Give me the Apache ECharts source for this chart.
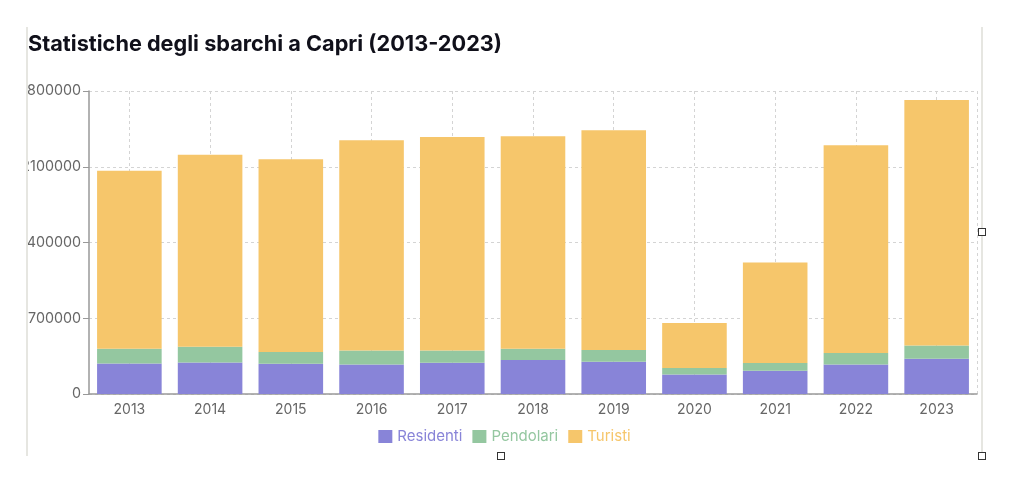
<!DOCTYPE html>
<html>
<head>
<meta charset="utf-8">
<script src="https://cdn.jsdelivr.net/npm/echarts@6/dist/echarts.min.js"></script>
<style>
  html, body { margin: 0; padding: 0; background: #fff; }
  body { width: 1024px; height: 497px; position: relative; overflow: hidden; }
  .vline { position: absolute; top: 27px; height: 429px; width: 2px; background: #e6e6e1; }
  .handle { position: absolute; width: 6px; height: 6px; border: 1px solid #333; background: #fff; box-sizing: content-box; }
  #chart { position: absolute; left: 28px; top: 0; width: 953px; height: 480px; overflow: hidden; }
</style>
</head>
<body>
<div class="vline" style="left:26px"></div>
<div class="vline" style="left:981px"></div>
<div id="chart"></div>
<div class="handle" style="left:497px; top:452px"></div>
<div class="handle" style="left:978px; top:228px"></div>
<div class="handle" style="left:978px; top:452px"></div>
<script>
const titleText = 'Statistiche degli sbarchi a Capri (2013-2023)';
const years = ['2013','2014','2015','2016','2017','2018','2019','2020','2021','2022','2023'];
const residenti = [282000, 292000, 280000, 273000, 289000, 314000, 298000, 181000, 215000, 273000, 326000];
const pendolari = [136000, 145000, 108000, 130000, 114000, 104000, 108000, 59000, 71000, 106000, 123000];
const turisti = [1646000, 1775000, 1781000, 1942000, 1972000, 1964000, 2031000, 415000, 929000, 1920000, 2268000];
const yMax = 2800000;
const yInterval = 700000;

const colors = { Residenti: '#8884d8', Pendolari: '#94c7a0', Turisti: '#f6c66b' };
const font = 'Inter, "Noto Sans", sans-serif';

// helper axis (half-band positions) used only to draw vertical dashed grid lines at category centres
const halfSteps = Array.from({ length: years.length * 2 + 1 }, (_, i) => String(i));

const chart = echarts.init(document.getElementById('chart'), null, { renderer: 'canvas' });
chart.setOption({
  animation: false,
  title: {
    text: titleText,
    left: 0, top: 33, padding: 0,
    textStyle: { fontFamily: font, fontSize: 21.7, fontWeight: 'bold', color: '#10101a' }
  },
  legend: {
    top: 424, left: 'center',
    icon: 'rect', itemWidth: 14, itemHeight: 13, itemGap: 10,
    textStyle: { fontFamily: font, fontSize: 15 },
    data: [
      { name: 'Residenti', textStyle: { color: colors.Residenti } },
      { name: 'Pendolari', textStyle: { color: colors.Pendolari } },
      { name: 'Turisti', textStyle: { color: colors.Turisti } }
    ]
  },
  grid: { left: 61, right: 4, top: 91, bottom: 86, containLabel: false, outerBoundsMode: 'none' },
  xAxis: [
    {
      type: 'category', data: years, boundaryGap: true,
      axisLine: { lineStyle: { color: '#999', width: 1.5 } },
      axisTick: { alignWithLabel: true, length: 6, lineStyle: { color: '#999' } },
      axisLabel: { color: '#666', fontFamily: font, fontSize: 14, margin: 9 },
      splitLine: { show: false }
    },
    {
      type: 'category', data: halfSteps, boundaryGap: false, position: 'bottom',
      axisLine: { show: false }, axisTick: { show: false }, axisLabel: { show: false },
      splitLine: {
        show: true,
        interval: (i) => i % 2 === 1 || i === halfSteps.length - 1,
        lineStyle: { color: '#d4d4d4', type: [3, 3] }
      }
    }
  ],
  yAxis: {
    type: 'value', min: 0, max: yMax, interval: yInterval,
    axisLine: { show: true, lineStyle: { color: '#999', width: 1.5 } },
    axisTick: { show: true, length: 6, lineStyle: { color: '#999' } },
    axisLabel: { color: '#666', fontFamily: font, fontSize: 14.3, margin: 8, formatter: (v) => String(v) },
    splitLine: { show: true, lineStyle: { color: '#d4d4d4', type: [3, 3] } }
  },
  series: [
    { name: 'Residenti', type: 'bar', stack: 'total', data: residenti, barCategoryGap: '20%', itemStyle: { color: colors.Residenti } },
    { name: 'Pendolari', type: 'bar', stack: 'total', data: pendolari, itemStyle: { color: colors.Pendolari } },
    { name: 'Turisti', type: 'bar', stack: 'total', data: turisti, itemStyle: { color: colors.Turisti } }
  ]
});
</script>
</body>
</html>
